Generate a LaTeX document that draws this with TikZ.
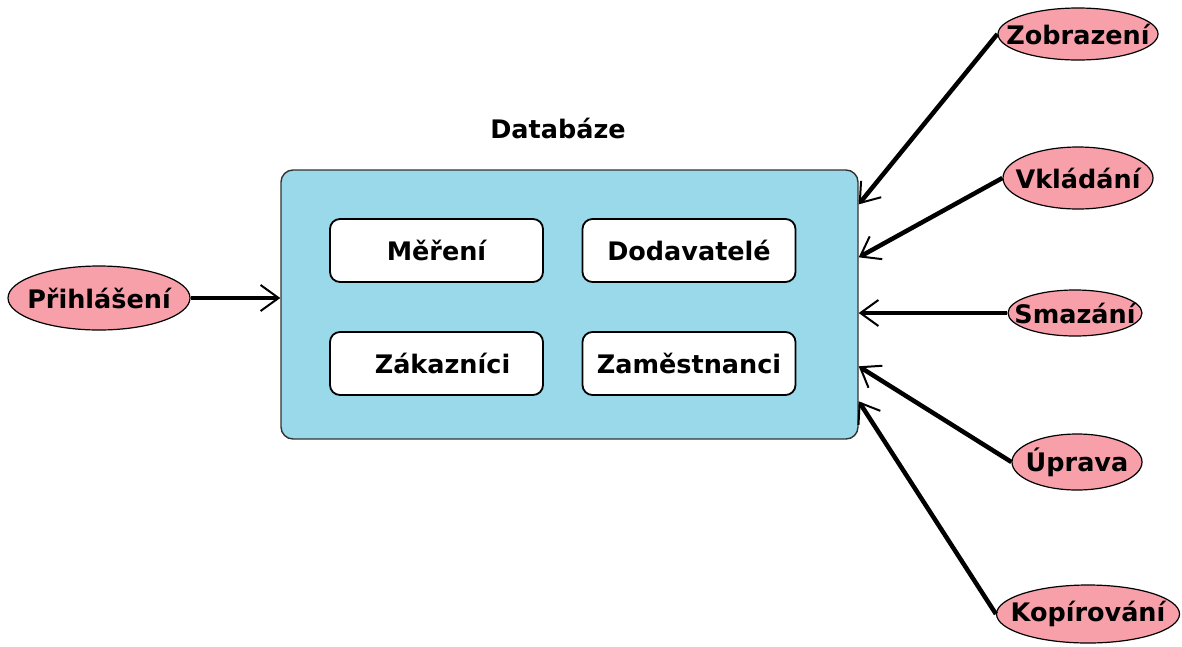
\documentclass[tikz,border=0pt]{standalone}
\usepackage{fontspec}
\setmainfont{DejaVu Sans}
\usetikzlibrary{shapes.geometric,arrows.meta,calc}
\definecolor{dbblue}{RGB}{153,217,234}
\definecolor{rosefill}{RGB}{247,160,170}
\begin{document}
\begin{tikzpicture}[x=1pt,y=-1pt,
  every node/.style={font=\fontsize{25.5}{29}\selectfont\bfseries},
  ovalnode/.style={ellipse, draw=black, line width=1.2pt, fill=rosefill, inner sep=0pt},
  tbox/.style={draw=black, line width=1.8pt, fill=white, rounded corners=10pt, minimum width=213pt, minimum height=63pt, inner sep=0pt},
  conn/.style={line width=4.5pt, -{Straight Barb[length=18pt,width=26pt,line width=2pt]}}
]
\useasboundingbox (0,0) rectangle (1182,646);

% main database box
\node[draw=black!80, line width=1.4pt, fill=dbblue, rounded corners=12pt,
      minimum width=577pt, minimum height=269pt, inner sep=0pt] (db) at (569.5,304.5) {};
\node (dbtitle) at (558,128) {Databáze};

\node[tbox] (mer) at (436.5,250.5) {Měření};
\node[tbox] (dod) at (689,250.5) {Dodavatelé};
\node[tbox] (zak) at (436.5,363.5) {\hspace*{12pt}Zákazníci};
\node[tbox] (zam) at (689,363.5) {Zaměstnanci};

% ellipses
\node[ovalnode, minimum width=182pt, minimum height=64pt] (pri) at (99,298) {\makebox[0pt]{Přihlášení}};
\node[ovalnode, minimum width=160pt, minimum height=52pt] (zob) at (1078,34) {\makebox[0pt]{Zobrazení}};
\node[ovalnode, minimum width=150pt, minimum height=62pt] (vkl) at (1078,178) {\makebox[0pt]{Vkládání}};
\node[ovalnode, minimum width=134pt, minimum height=46pt] (smz) at (1075,313) {\makebox[0pt]{Smazání}};
\node[ovalnode, minimum width=130pt, minimum height=56pt] (upr) at (1077,462) {\makebox[0pt]{Úprava}};
\node[ovalnode, minimum width=183pt, minimum height=58pt] (kop) at (1088,614) {\makebox[0pt]{Kopírování}};

% arrow targets on the right side of the box
\coordinate (t1) at ([yshift=-35pt]db.north east);
\coordinate (t2) at ([yshift=-88pt]db.north east);
\coordinate (t4) at ([yshift=-197pt]db.north east);
\coordinate (t5) at ([yshift=-232pt]db.north east);

% connectors
\draw[conn] (pri.east) -- (pri.east -| db.west);
\draw[conn] (zob.west) -- (t1);
\draw[conn] (vkl.west) -- (t2);
\draw[conn] (smz.west) -- (smz.west -| db.east);
\draw[conn] (upr.west) -- (t4);
\draw[conn] (kop.west) -- (t5);
\end{tikzpicture}
\end{document}
